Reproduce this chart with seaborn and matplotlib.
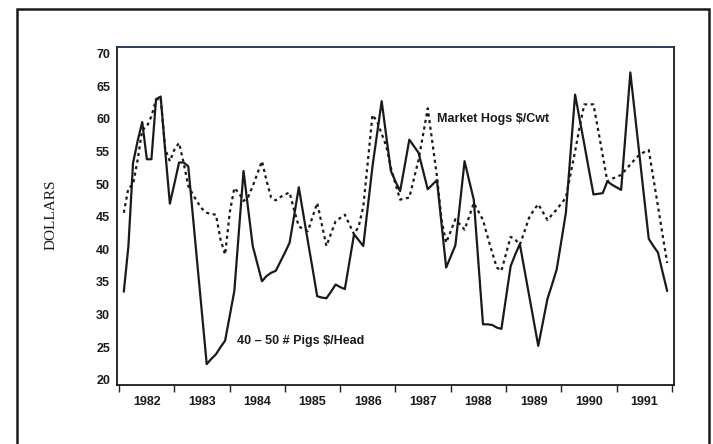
import numpy as np
import pandas as pd
import seaborn as sns
import matplotlib.pyplot as plt
from matplotlib.patches import Rectangle

# monthly prices, Feb 1982 - Dec 1991
months = pd.date_range('1982-02-01', '1991-12-01', freq='MS')

pigs_head = [33.5, 40.5, 53.2, 56.6, 59.5, 53.8, 53.8, 63.0, 63.4, 55.0,
             47.0, 50.1, 53.3, 53.3, 52.7, 45.1, 37.5, 30.0, 22.4, 23.2,
             23.9, 25.0, 26.0, 29.8, 33.6, 42.8, 52.0, 46.2, 40.5, 37.8,
             35.1, 35.9, 36.4, 36.7, 38.1, 39.5, 41.0, 45.2, 49.5, 45.3,
             41.1, 37.0, 32.8, 32.6, 32.5, 33.5, 34.6, 34.2, 33.9, 38.1,
             42.3, 41.4, 40.5, 46.6, 52.7, 57.7, 62.7, 57.3, 52.0, 50.4,
             48.9, 52.8, 56.8, 55.8, 54.8, 52.0, 49.2, 49.9, 50.6, 43.9,
             37.2, 38.9, 40.6, 47.0, 53.5, 50.5, 47.6, 38.0, 28.5, 28.5,
             28.4, 28.0, 27.8, 32.6, 37.4, 39.2, 40.8, 36.9, 33.0, 29.1,
             25.2, 28.8, 32.4, 34.6, 36.9, 41.2, 45.6, 54.6, 63.7, 59.9,
             56.1, 52.2, 48.4, 48.5, 48.6, 50.4, 49.9, 49.5, 49.1, 58.1,
             67.1, 60.7, 54.3, 47.9, 41.6, 40.5, 39.5, 36.5, 33.6]

hogs_cwt = [45.6, 49.4, 49.9, 53.7, 58.3, 58.8, 60.4, 62.9, 63.2, 55.3,
            53.5, 55.3, 56.3, 53.2, 49.7, 48.4, 47.2, 46.2, 45.6, 45.4,
            45.3, 41.5, 39.2, 45.6, 49.4, 48.6, 47.4, 48.0, 49.7, 51.6,
            53.5, 50.5, 47.9, 47.5, 48.0, 48.4, 48.7, 46.0, 43.5, 43.1,
            42.8, 45.0, 47.1, 43.8, 40.5, 42.4, 44.3, 44.8, 45.3, 43.8,
            42.3, 43.5, 46.5, 53.5, 60.6, 59.6, 57.7, 55.8, 52.5, 50.0,
            47.6, 47.8, 47.9, 50.8, 53.7, 57.6, 61.6, 56.4, 51.2, 44.5,
            41.0, 42.8, 44.6, 43.8, 43.0, 45.0, 47.1, 45.8, 44.5, 41.9,
            39.5, 37.2, 36.7, 39.3, 41.9, 41.5, 40.7, 42.7, 44.8, 46.0,
            46.9, 45.7, 44.5, 45.3, 46.1, 47.0, 47.9, 51.5, 55.0, 58.8,
            62.2, 62.2, 62.2, 58.3, 54.4, 50.4, 50.8, 51.1, 51.4, 52.2,
            53.0, 53.8, 54.5, 54.9, 55.2, 50.9, 46.6, 42.2, 37.9]

years = list(range(1982, 1992))
y_ticks = [20, 25, 30, 35, 40, 45, 50, 55, 60, 65, 70]

# decimal years for plotting
t = months.year + (months.month - 1) / 12.0
df = pd.DataFrame({'t': t, 'pigs': pigs_head, 'hogs': hogs_cwt})

sns.set_style("white")
plt.rcParams['font.family'] = ['Liberation Sans', 'DejaVu Sans']

fig = plt.figure(figsize=(7.13, 4.44), dpi=100)
ax = fig.add_axes([117 / 713, 59 / 444, 557 / 713, 338 / 444])

sns.lineplot(data=df, x='t', y='hogs', ax=ax, color='#1a1a1a',
             linewidth=1.6, linestyle=(0, (1.4, 1.6)))
sns.lineplot(data=df, x='t', y='pigs', ax=ax, color='#1a1a1a',
             linewidth=1.6)

ax.set_xlim(1981.96, 1992.04)
ax.set_ylim(19.2, 71.0)

# year boundaries as ticks, year labels centred between them
ax.set_xticks(years + [1992])
ax.set_xticklabels([])
ax.set_xticks([y + 0.5 for y in years], minor=True)
ax.set_xticklabels([str(y) for y in years], minor=True)
ax.tick_params(axis='x', which='major', direction='out', length=5,
               width=1, color='#222222', bottom=True)
ax.tick_params(axis='x', which='minor', length=0, pad=8, labelsize=9)

ax.set_yticks(y_ticks)
ax.set_yticklabels([str(v) for v in y_ticks])
ax.tick_params(axis='y', length=0, pad=5, labelsize=9)

for lab in ax.get_xticklabels(minor=True) + ax.get_yticklabels():
    lab.set_color('#1a1a1a')
    lab.set_fontweight('bold')

for s in ax.spines.values():
    s.set_color('#1a1a1a')
    s.set_linewidth(1.3)
ax.spines['top'].set_color('#1c2a55')

ax.set_xlabel('')
ax.set_ylabel('')

ax.text(1987.75, 59.9, 'Market Hogs $/Cwt', fontsize=9, va='center',
        ha='left', color='#1a1a1a', fontweight='bold')
ax.text(1984.13, 25.9, '40 \u2013 50 # Pigs $/Head', fontsize=9,
        va='center', ha='left', color='#1a1a1a', fontweight='bold')

fig.text(50.7 / 713, 1 - 215 / 444, 'DOLLARS', rotation=90, fontsize=11,
         family='Liberation Serif', ha='center', va='center',
         color='#1a1a1a')

# outer frame of the page
fig.patches.append(Rectangle((16.7 / 713, -0.1), (709.3 - 16.7) / 713,
                             1.1 - 9 / 444, transform=fig.transFigure,
                             fill=False, edgecolor='#1a1a1a',
                             linewidth=1.8))

fig.savefig('out.png', dpi=100)
